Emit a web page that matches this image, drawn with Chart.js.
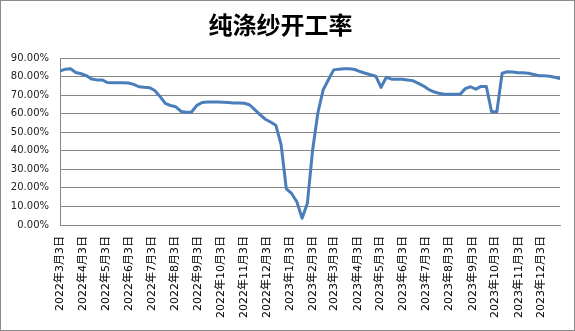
<!DOCTYPE html>
<html>
<head>
<meta charset="utf-8">
<script src="https://cdn.jsdelivr.net/npm/chart.js@4.4.1/dist/chart.umd.min.js"></script>
<style>
  html, body { margin: 0; padding: 0; background: #fff; }
  #wrap { width: 575px; height: 331px; box-sizing: border-box; border: 1px solid #8c8c8c; position: relative; }
  #c { display: block; }
</style>
</head>
<body>
<div id="wrap"><canvas id="c" width="573" height="329"></canvas></div>
<script>
// Weekly dates (categories)
const weekDates = [
  "2022-03-03","2022-03-10","2022-03-17","2022-03-24","2022-03-31","2022-04-07","2022-04-14","2022-04-21","2022-04-28",
  "2022-05-05","2022-05-12","2022-05-19","2022-05-26","2022-06-02","2022-06-09","2022-06-16","2022-06-23","2022-06-30",
  "2022-07-07","2022-07-14","2022-07-21","2022-07-28","2022-08-04","2022-08-11","2022-08-18","2022-08-25","2022-09-01",
  "2022-09-08","2022-09-15","2022-09-22","2022-09-29","2022-10-06","2022-10-13","2022-10-20","2022-10-27","2022-11-03",
  "2022-11-10","2022-11-17","2022-11-24","2022-12-01","2022-12-08","2022-12-15","2022-12-22","2022-12-29",
  "2023-01-05","2023-01-12","2023-01-19","2023-01-26","2023-02-02","2023-02-09","2023-02-16","2023-02-23",
  "2023-03-02","2023-03-09","2023-03-16","2023-03-23","2023-03-30","2023-04-06","2023-04-13","2023-04-20","2023-04-27",
  "2023-05-04","2023-05-11","2023-05-18","2023-05-25","2023-06-01","2023-06-08","2023-06-15","2023-06-22","2023-06-29",
  "2023-07-06","2023-07-13","2023-07-20","2023-07-27","2023-08-03","2023-08-10","2023-08-17","2023-08-24","2023-08-31",
  "2023-09-07","2023-09-14","2023-09-21","2023-09-28","2023-10-05","2023-10-12","2023-10-19","2023-10-26",
  "2023-11-02","2023-11-09","2023-11-16","2023-11-23","2023-11-30","2023-12-07","2023-12-14","2023-12-21","2023-12-28"
];

// 纯涤纱开工率 (%)
const rateValues = [
  83.0, 84.0, 84.2, 82.2, 81.5, 80.5, 78.7, 78.2, 78.2,
  76.8, 76.7, 76.7, 76.7, 76.5, 75.8, 74.5, 74.2, 74.0,
  72.5, 69.3, 65.5, 64.4, 63.7, 61.2, 60.8, 60.9, 64.5,
  66.0, 66.3, 66.3, 66.3, 66.2, 66.0, 65.8, 65.8, 65.6,
  64.8, 62.2, 59.5, 57.0, 55.5, 53.8, 43.5, 19.5,
  17.0, 12.5, 3.6, 11.7, 40.5, 60.5, 72.8, 78.3,
  83.6, 84.0, 84.2, 84.2, 83.8, 82.7, 81.8, 81.0, 80.2,
  74.2, 79.6, 78.6, 78.5, 78.5, 78.2, 77.8, 76.5, 75.0,
  73.1, 71.8, 71.0, 70.5, 70.4, 70.4, 70.4, 73.5, 74.5,
  73.2, 74.7, 74.7, 61.0, 61.0, 81.8, 82.6, 82.5,
  82.1, 82.0, 81.8, 81.1, 80.4, 80.4, 80.2, 79.6, 79.0
];

// Axis tick dates and labels
const tickDates = [
  "2022-03-03","2022-04-03","2022-05-03","2022-06-03","2022-07-03","2022-08-03","2022-09-03","2022-10-03",
  "2022-11-03","2022-12-03","2023-01-03","2023-02-03","2023-03-03","2023-04-03","2023-05-03","2023-06-03",
  "2023-07-03","2023-08-03","2023-09-03","2023-10-03","2023-11-03","2023-12-03"
];
const tickLabels = [
  "2022年3月3日","2022年4月3日","2022年5月3日","2022年6月3日","2022年7月3日","2022年8月3日","2022年9月3日","2022年10月3日",
  "2022年11月3日","2022年12月3日","2023年1月3日","2023年2月3日","2023年3月3日","2023年4月3日","2023年5月3日","2023年6月3日",
  "2023年7月3日","2023年8月3日","2023年9月3日","2023年10月3日","2023年11月3日","2023年12月3日"
];
const yTicks = [0, 10, 20, 30, 40, 50, 60, 70, 80, 90];

const startMs = Date.parse(weekDates[0] + "T00:00:00Z");
const dayOf = s => Math.round((Date.parse(s + "T00:00:00Z") - startMs) / 86400000);
const points = weekDates.map((d, i) => ({ x: dayOf(d), y: rateValues[i] }));
const tickDays = tickDates.map(dayOf);

const gridColor = '#868686';

new Chart(document.getElementById('c'), {
  type: 'line',
  data: {
    datasets: [{
      label: '纯涤纱开工率',
      data: points,
      borderColor: '#4a7ebb',
      borderWidth: 3,
      pointRadius: 0,
      tension: 0,
      borderJoinStyle: 'round',
      borderCapStyle: 'round',
      fill: false
    }]
  },
  options: {
    responsive: false,
    animation: false,
    layout: { padding: { left: 0, right: 14, top: 0, bottom: 0 } },
    plugins: {
      legend: { display: false },
      tooltip: { enabled: false },
      title: {
        display: true,
        text: '纯涤纱开工率',
        color: '#000',
        font: { family: '"Noto Sans CJK SC", sans-serif', size: 24, weight: 'bold' },
        padding: { top: 9, bottom: 19.2 }
      }
    },
    scales: {
      x: {
        type: 'linear',
        min: dayOf(weekDates[0]),
        max: dayOf(weekDates[weekDates.length - 1]),
        afterBuildTicks: (scale) => { scale.ticks = tickDays.map(v => ({ value: v })); },
        afterFit: (scale) => { scale.height = 105; },
        grid: { display: false, drawTicks: false },
        border: { display: true, color: gridColor, width: 1 },
        ticks: {
          autoSkip: false,
          maxRotation: 90,
          minRotation: 90,
          padding: 11,
          color: '#000',
          font: { family: '"DejaVu Sans", "Noto Sans CJK SC", sans-serif', size: 11 },
          callback: (v, i) => tickLabels[i]
        }
      },
      y: {
        min: 0,
        max: 90,
        afterBuildTicks: (scale) => { scale.ticks = yTicks.map(v => ({ value: v })); },
        afterFit: (scale) => { scale.width = 59; },
        grid: { color: gridColor, lineWidth: 1, drawTicks: false },
        border: { display: true, color: gridColor, width: 1 },
        ticks: {
          padding: 11,
          color: '#222',
          font: { family: '"DejaVu Sans", sans-serif', size: 10 },
          callback: (v) => v.toFixed(2) + '%'
        }
      }
    }
  }
});
</script>
</body>
</html>
